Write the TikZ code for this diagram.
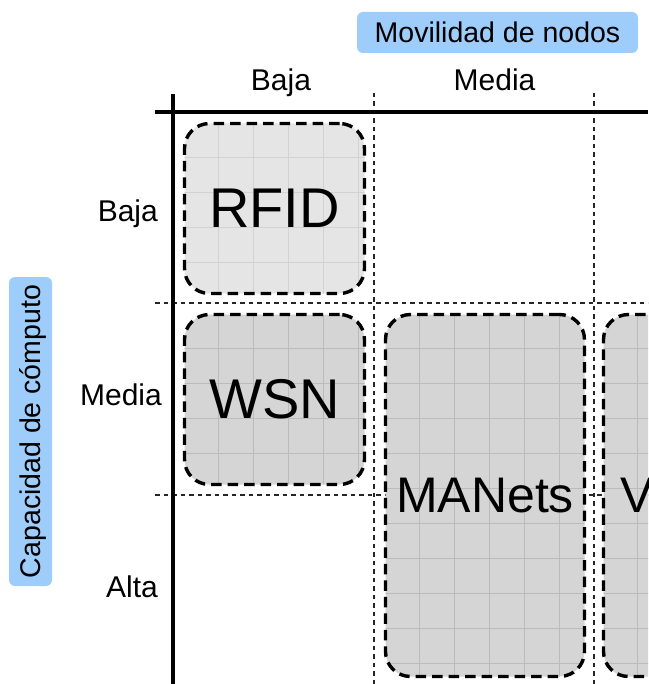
\documentclass[tikz,border=0pt]{standalone}
\usepackage{fontspec}
\setmainfont{Liberation Sans}
\usetikzlibrary{calc}
\definecolor{tagblue}{HTML}{9ECDFB}
\definecolor{lightcell}{HTML}{E5E5E5}
\definecolor{lightgrid}{HTML}{D2D2D2}
\definecolor{darkcell}{HTML}{D5D5D5}
\definecolor{darkgrid}{HTML}{BBBBBB}
\tikzset{
  axisline/.style={line width=4pt},
  sepline/.style={line width=1.1pt, black!85, dash pattern=on 4.5pt off 4pt},
  tag/.style={fill=tagblue, rounded corners=6pt, inner sep=0pt,
    font=\fontsize{28.5}{32}\selectfont, text depth=0pt},
  axislabel/.style={font=\fontsize{30}{34}\selectfont, inner sep=0pt},
  tile/.style 2 args={draw, line width=3.4pt, dash pattern=on 10.5pt off 6pt,
    rounded corners=25pt, fill=#1, inner sep=0pt,
    font=\fontsize{50}{56}\selectfont,
    path picture={
      \foreach \k in {1,...,12}{
        \draw[#2, solid, line width=0.9pt]
          ($(path picture bounding box.north west)+(35*\k-1.5,-5)$) -- ++(0,720);
        \draw[#2, solid, line width=0.9pt]
          ($(path picture bounding box.north west)+(-5,35*\k-1.5)$) -- ++(720,0);
      }
    }},
}
\begin{document}
\begin{tikzpicture}[x=1pt,y=-1pt]
\useasboundingbox (0,0) rectangle (648,684);
\clip (0,0) rectangle (648,684);

% thin dashed separators between rows and columns
\coordinate (c1top) at (374,93);  \coordinate (c1bot) at (374,684);
\coordinate (c2top) at (594,93);  \coordinate (c2bot) at (594,684);
\coordinate (r1l) at (155,303);   \coordinate (r1r) at (648,303);
\coordinate (r2l) at (155,495);   \coordinate (r2r) at (648,495);
\draw[sepline] (c1top) -- (c1bot);
\draw[sepline] (c2top) -- (c2bot);
\draw[sepline] (r1l) -- (r1r);
\draw[sepline] (r2l) -- (r2r);

% axes
\coordinate (vtop) at (173,94);   \coordinate (vbot) at (173,684);
\coordinate (hleft) at (155,112); \coordinate (hright) at (648,112);
\draw[axisline] (vtop) -- (vbot);
\draw[axisline] (hleft) -- (hright);

% axis titles
\node[tag, minimum width=281pt, minimum height=41pt] (mov) at (497.5,32.5) {Movilidad de nodos};
\node[tag, rotate=90, minimum width=309pt, minimum height=43pt] (cap) at (30.5,431.5) {Capacidad de cómputo};

% column labels
\node[axislabel, anchor=base] (colbaja) at (281,91) {Baja};
\node[axislabel, anchor=base] (colmedia) at (494.5,91) {Media};

% row labels
\node[axislabel, anchor=base east] (rowbaja) at (158,222) {Baja};
\node[axislabel, anchor=base east] (rowmedia) at (162,405) {Media};
\node[axislabel, anchor=base east] (rowalta) at (158,597) {Alta};

% network classes
\node[tile={lightcell}{lightgrid}, minimum width=180pt, minimum height=170pt,
      font=\fontsize{56}{60}\selectfont] (rfid) at (274.5,208.5) {RFID};
\node[tile={darkcell}{darkgrid}, minimum width=180pt, minimum height=170pt,
      font=\fontsize{56}{60}\selectfont] (wsn) at (274.5,399.5) {WSN};
\node[tile={darkcell}{darkgrid}, minimum width=199pt, minimum height=362pt] (manets) at (485,495.5) {MANets};
\node[tile={darkcell}{darkgrid}, minimum width=199pt, minimum height=362pt] (vanets) at (703,495.5) {VANets};
\end{tikzpicture}
\end{document}
